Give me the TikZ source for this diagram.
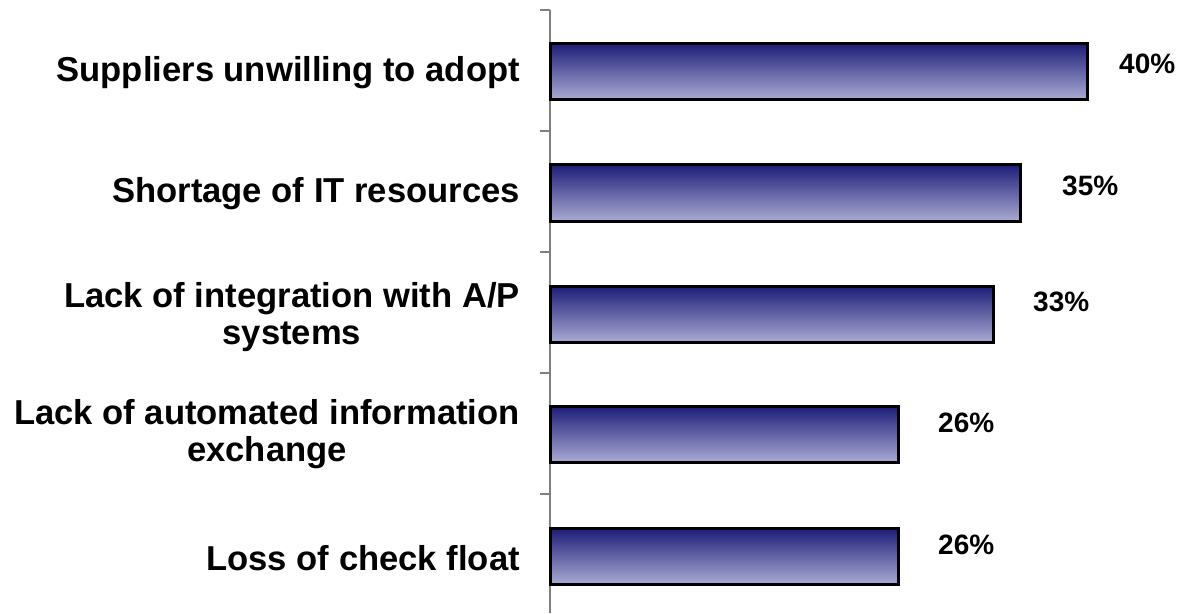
\documentclass[tikz,border=0pt]{standalone}
\usepackage{fontspec}
\setmainfont{Liberation Sans}
\definecolor{bartop}{RGB}{28,28,120}
\definecolor{barbot}{RGB}{170,170,212}
\definecolor{axisgray}{RGB}{128,128,128}
\begin{document}
\begin{tikzpicture}[x=1pt,y=-1pt,
  catlabel/.style={anchor=east,align=center,font=\fontsize{34.6}{37.5}\selectfont\bfseries,inner sep=0pt},
  pctlabel/.style={anchor=west,font=\fontsize{28}{32}\selectfont\bfseries,inner sep=0pt},
  bar/.style={draw=black,line width=3pt,shading=axis,top color=bartop,bottom color=barbot},
  axisline/.style={draw=axisgray,line width=2pt}]
\useasboundingbox (0,0) rectangle (1183,613);
% axis
\coordinate (axtop) at (550,10);
\coordinate (axbot) at (550,613);
\draw[axisline] (axtop) -- (axbot);
\foreach \y in {10,131,252,373,494}{
  \draw[axisline] (540,\y) -- (550,\y);
}
% bars
\path[bar] (550,43) rectangle (1087,99);
\path[bar] (550,164) rectangle (1020,221);
\path[bar] (550,286) rectangle (993,342);
\path[bar] (550,406) rectangle (898,462);
\path[bar] (550,528) rectangle (898,584);
% category labels
\node[catlabel] (c1) at (520,73) {Suppliers unwilling to adopt};
\node[catlabel] (c2) at (520,194) {Shortage of IT resources};
\node[catlabel] (c3) at (520,317) {Lack of integration with A/P\\systems};
\node[catlabel] (c4) at (520,434) {Lack of automated information\\exchange};
\node[catlabel] (c5) at (520,558) {Loss of check float};
% value labels
\node[pctlabel] (p1) at (1119,64) {40\%};
\node[pctlabel] (p2) at (1062,186) {35\%};
\node[pctlabel] (p3) at (1033,302) {33\%};
\node[pctlabel] (p4) at (938,423) {26\%};
\node[pctlabel] (p5) at (938,545) {26\%};
\end{tikzpicture}
\end{document}
